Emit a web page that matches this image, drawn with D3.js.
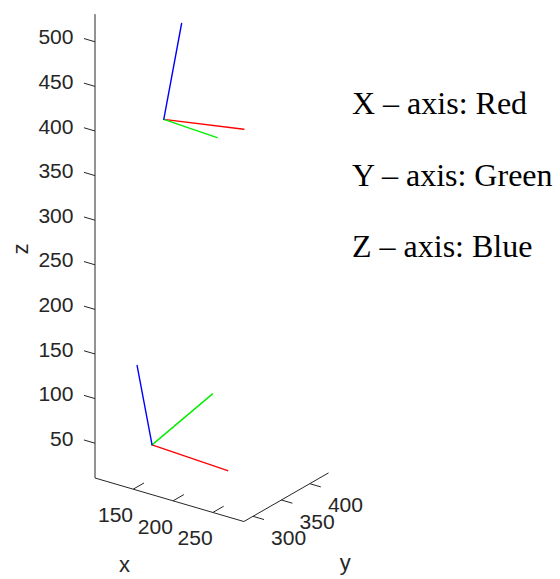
<!DOCTYPE html>
<html>
<head>
<meta charset="utf-8">
<script src="https://cdn.jsdelivr.net/npm/d3@7"></script>
<style>
  html, body { margin: 0; padding: 0; background: #fff; }
  svg { display: block; }
</style>
</head>
<body>
<svg id="chart" width="560" height="579"></svg>
<script>
// ---------- data ----------
const xLimits = [102, 289];
const yLimits = [284, 433];
const zLimits = [11, 531];
const xTickValues = [150, 200, 250];
const yTickValues = [300, 350, 400];
const zTickValues = [50, 100, 150, 200, 250, 300, 350, 400, 450, 500];
const axisNames = ["x", "y", "z"];

// coordinate frames: origin and the tips of the X (red), Y (green), Z (blue) axes
const frameOrigins = [
  [167.0, 314.0, 419.0],
  [148.0, 320.0, 47.0]
];
const frameRedTips = [
  [265.7, 316.7, 432.7],
  [247.6, 313.5, 46.4]
];
const frameGreenTips = [
  [172.7, 400.0, 368.6],
  [154.9, 416.8, 70.5]
];
const frameBlueTips = [
  [152.0, 366.4, 503.4],
  [146.4, 295.9, 144.3]
];
const legendLines = ["X \u2013 axis: Red", "Y \u2013 axis: Green", "Z \u2013 axis: Blue"];

// ---------- layout / view ----------
const az = 35.5 * Math.PI / 180;
const el = 24.2 * Math.PI / 180;
const pxPerUnit = 0.978;
const corner = [95, 478];           // screen position of (xmin, ymin, zmin)

const ex = [pxPerUnit * Math.cos(az), pxPerUnit * Math.sin(el) * Math.sin(az)];
const ey = [pxPerUnit * Math.sin(az), -pxPerUnit * Math.sin(el) * Math.cos(az)];
const ez = [0, -pxPerUnit * Math.cos(el)];

const xS = d3.scaleLinear().domain(xLimits).range([0, xLimits[1] - xLimits[0]]);
const yS = d3.scaleLinear().domain(yLimits).range([0, yLimits[1] - yLimits[0]]);
const zS = d3.scaleLinear().domain(zLimits).range([0, zLimits[1] - zLimits[0]]);

function project(p) {
  const a = xS(p[0]), b = yS(p[1]), c = zS(p[2]);
  return [corner[0] + a * ex[0] + b * ey[0] + c * ez[0],
          corner[1] + a * ex[1] + b * ey[1] + c * ez[1]];
}
function unit(v) { const n = Math.hypot(v[0], v[1]); return [v[0] / n, v[1] / n]; }

const svg = d3.select("#chart");
const line = d3.line();
const axisColor = "#262626";
const tickFont = "'Liberation Sans', Arial, Helvetica, sans-serif";
const tickSize = 19.5;
const stretch = 1.08;

const gAxes = svg.append("g");

// axis lines
const xmin = xLimits[0], xmax = xLimits[1], ymin = yLimits[0], ymax = yLimits[1], zmin = zLimits[0], zmax = zLimits[1];
gAxes.append("path").attr("d", line([project([xmin, ymin, zmin]), project([xmax, ymin, zmin])]))
  .attr("stroke", axisColor).attr("stroke-width", 1).attr("fill", "none");
gAxes.append("path").attr("d", line([project([xmax, ymin, zmin]), project([xmax, ymax, zmin])]))
  .attr("stroke", axisColor).attr("stroke-width", 1).attr("fill", "none");
gAxes.append("path").attr("d", line([project([xmin, ymin, zmin]), project([xmin, ymin, zmax])]))
  .attr("stroke", axisColor).attr("stroke-width", 1).attr("fill", "none");

const exU = unit(ex), eyU = unit(ey);

// x ticks (point along +y direction)
xTickValues.forEach(v => {
  const p = project([v, ymin, zmin]);
  const q = [p[0] + eyU[0] * 12.5, p[1] + eyU[1] * 12.5];
  gAxes.append("path").attr("d", line([p, q])).attr("stroke", axisColor).attr("stroke-width", 1);
  gAxes.append("text")
    .attr("transform", `translate(${p[0] - 17.7},${p[1] + 26.3}) scale(${stretch},1)`)
    .attr("text-anchor", "middle").attr("dominant-baseline", "central")
    .attr("font-family", tickFont).attr("font-size", tickSize).attr("fill", axisColor)
    .text(v);
});
// y ticks (point along +x direction)
yTickValues.forEach(v => {
  const p = project([xmax, v, zmin]);
  const q = [p[0] + exU[0] * 11.5, p[1] + exU[1] * 11.5];
  gAxes.append("path").attr("d", line([p, q])).attr("stroke", axisColor).attr("stroke-width", 1);
  gAxes.append("text")
    .attr("transform", `translate(${p[0] + 35.7},${p[1] + 21.8}) scale(${stretch},1)`)
    .attr("text-anchor", "middle").attr("dominant-baseline", "central")
    .attr("font-family", tickFont).attr("font-size", tickSize).attr("fill", axisColor)
    .text(v);
});
// z ticks (point along -x direction)
zTickValues.forEach(v => {
  const p = project([xmin, ymin, v]);
  const q = [p[0] - exU[0] * 11.5, p[1] - exU[1] * 11.5];
  gAxes.append("path").attr("d", line([p, q])).attr("stroke", axisColor).attr("stroke-width", 1);
  gAxes.append("text")
    .attr("transform", `translate(${p[0] - 21.5},${p[1] - 4.2}) scale(${stretch},1)`)
    .attr("text-anchor", "end").attr("dominant-baseline", "central")
    .attr("font-family", tickFont).attr("font-size", tickSize).attr("fill", axisColor)
    .text(v);
});

// axis labels
const labelSize = 22;
const xMid = project([(xmin + xmax) / 2, ymin, zmin]);
gAxes.append("text").attr("transform", `translate(${xMid[0] - 45},${xMid[1] + 72})`)
  .attr("text-anchor", "middle")
  .attr("font-family", tickFont).attr("font-size", labelSize).attr("fill", axisColor).text(axisNames[0]);
const yMid = project([xmax, (ymin + ymax) / 2, zmin]);
gAxes.append("text").attr("transform", `translate(${yMid[0] + 59},${yMid[1] + 73})`)
  .attr("text-anchor", "middle")
  .attr("font-family", tickFont).attr("font-size", labelSize).attr("fill", axisColor).text(axisNames[1]);
const zMid = project([xmin, ymin, (zmin + zmax) / 2]);
gAxes.append("text").attr("transform", `translate(${zMid[0] - 75},${zMid[1] + 3}) rotate(-90)`)
  .attr("text-anchor", "middle").attr("dominant-baseline", "central")
  .attr("font-family", tickFont).attr("font-size", labelSize).attr("fill", axisColor).text(axisNames[2]);

// frames
const gFrames = svg.append("g").attr("fill", "none").attr("stroke-width", 1.4).attr("stroke-linecap", "round");
const tipSets = [
  { tips: frameRedTips, color: "#ff0000" },
  { tips: frameGreenTips, color: "#00ee00" },
  { tips: frameBlueTips, color: "#0000ff" }
];
frameOrigins.forEach((o, i) => {
  tipSets.forEach(s => {
    gFrames.append("path")
      .attr("d", line([project(o), project(s.tips[i])]))
      .attr("stroke", s.color);
  });
});

// legend text
const legendBaselines = [114, 186, 257];
svg.append("g").selectAll("text").data(legendLines).join("text")
  .attr("x", 352).attr("y", (d, i) => legendBaselines[i])
  .attr("font-family", "'Liberation Serif', 'Times New Roman', Times, serif")
  .attr("font-size", 32).attr("fill", "#000")
  .text(d => d);
</script>
</body>
</html>
